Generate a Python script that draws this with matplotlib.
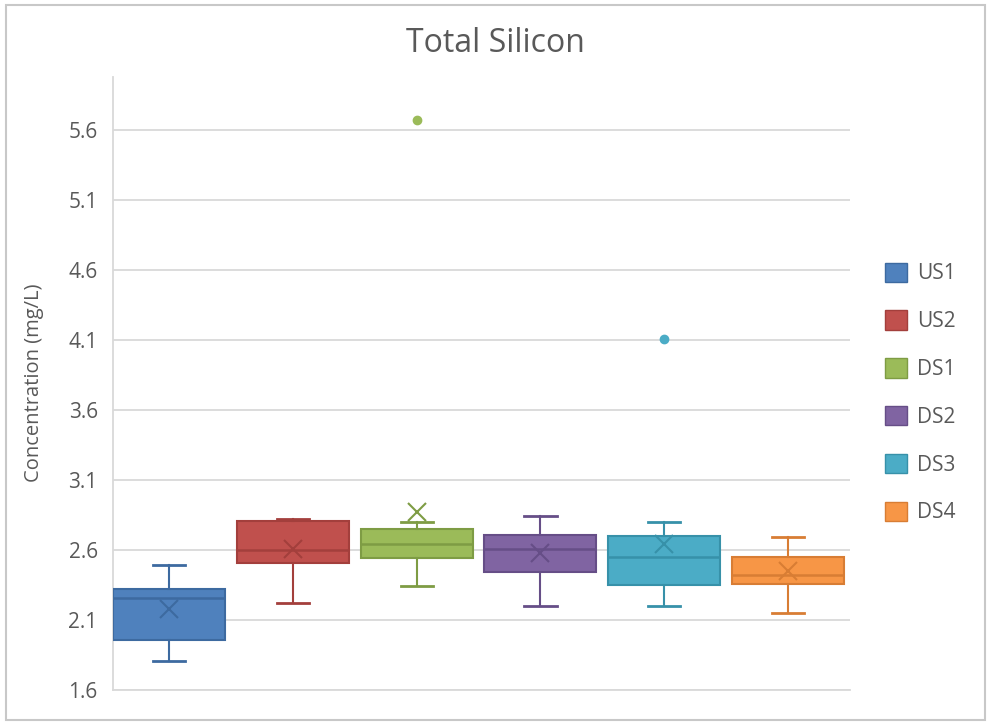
import matplotlib.pyplot as plt
from matplotlib.patches import Rectangle, Patch

plt.rcParams['font.family'] = ['Open Sans', 'DejaVu Sans']

# data
sites = ['US1', 'US2', 'DS1', 'DS2', 'DS3', 'DS4']
whis_lo = [1.81, 2.22, 2.34, 2.20, 2.20, 2.15]
q1 = [1.96, 2.51, 2.54, 2.44, 2.35, 2.36]
med = [2.26, 2.60, 2.64, 2.61, 2.55, 2.42]
q3 = [2.32, 2.81, 2.75, 2.71, 2.70, 2.55]
whis_hi = [2.49, 2.82, 2.80, 2.84, 2.80, 2.69]
means = [2.18, 2.61, 2.87, 2.58, 2.64, 2.45]
outliers = [[], [], [5.67], [], [4.11], []]
yticks = [1.6, 2.1, 2.6, 3.1, 3.6, 4.1, 4.6, 5.1, 5.6]

fills = ['#4F81BD', '#C0504D', '#9BBB59', '#8064A2', '#4BACC6', '#F79646']
edges = ['#3D6AA0', '#A33F3C', '#7E9C44', '#664E87', '#3791A9', '#D87D34']

fig = plt.figure(figsize=(9.9, 7.22), dpi=100)
ax = fig.add_axes([113 / 990, 1 - 690 / 722, 737 / 990, 613 / 722])

stats = []
for i in range(len(sites)):
    stats.append(dict(label=sites[i], whislo=whis_lo[i], q1=q1[i], med=med[i],
                      q3=q3[i], whishi=whis_hi[i], mean=means[i], fliers=outliers[i]))

for i, s in enumerate(stats):
    ax.bxp([s], positions=[i + 1], widths=0.905, patch_artist=True,
           showmeans=True, capwidths=0.26, zorder=3,
           boxprops=dict(facecolor=fills[i], edgecolor=edges[i], linewidth=1.5),
           whiskerprops=dict(color=edges[i], linewidth=1.5),
           capprops=dict(color=edges[i], linewidth=2.0),
           medianprops=dict(color=edges[i], linewidth=1.8),
           meanprops=dict(marker='x', markeredgecolor=edges[i], markersize=13,
                          markeredgewidth=1.5),
           flierprops=dict(marker='o', markerfacecolor=fills[i],
                           markeredgecolor=fills[i], markersize=6))

ax.set_xlim(0.548, 6.5)
ax.set_ylim(1.6, 1.6 + 613 / 140)
ax.set_yticks(yticks)
ax.set_yticklabels([f'{v:.1f}' for v in yticks])
ax.set_xticks([])
ax.grid(axis='y', color='#D9D9D9', linewidth=1.3, zorder=0)
ax.set_axisbelow(True)
for side in ['top', 'right']:
    ax.spines[side].set_visible(False)
ax.spines['left'].set_color('#D9D9D9')
ax.spines['bottom'].set_color('#D9D9D9')
ax.spines['left'].set_linewidth(1.3)
ax.spines['bottom'].set_linewidth(1.3)
ax.tick_params(axis='y', length=0, labelsize=15, labelcolor='#595959', pad=11)

fig.text(34 / 990, 1 - 383 / 722, 'Concentration (mg/L)', rotation=90,
         ha='center', va='center', fontsize=14.5, color='#595959')
fig.text(495 / 990, 1 - 43 / 722, 'Total Silicon', ha='center', va='center',
         fontsize=23, color='#595959')

handles = [Patch(facecolor=fills[i], edgecolor=edges[i], label=sites[i])
           for i in range(len(sites))]
fig.legend(handles=handles, loc='center left', bbox_to_anchor=(885 / 990, 1 - 393 / 722),
           frameon=False, fontsize=15, labelcolor='#595959', handlelength=1.05,
           handleheight=1.05, labelspacing=1.25, handletextpad=0.5, borderpad=0,
           borderaxespad=0)

fig.patches.append(Rectangle((6 / 990, 1 - 720 / 722), 979 / 990, 715 / 722,
                             transform=fig.transFigure, fill=False,
                             edgecolor='#C8C8C8', linewidth=1.5))

fig.savefig('out.png', dpi=100)
